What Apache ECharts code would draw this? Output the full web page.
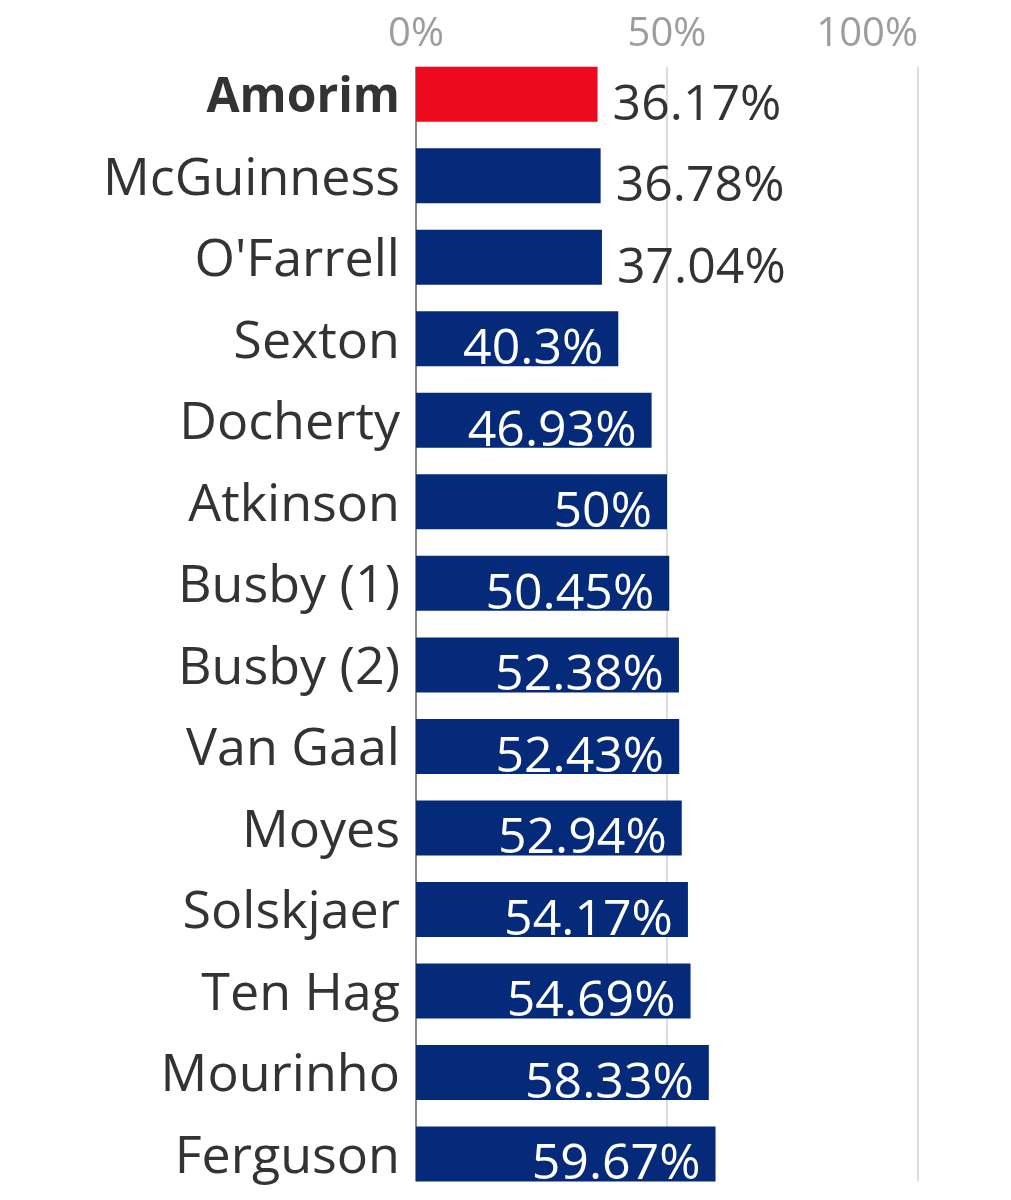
<!DOCTYPE html>
<html>
<head>
<meta charset="utf-8">
<script src="https://cdn.jsdelivr.net/npm/echarts@6/dist/echarts.min.js"></script>
<style>
html,body{margin:0;padding:0;background:#fff;}
#chart{width:1011px;height:1200px;}
</style>
</head>
<body>
<div id="chart"></div>
<script>
var managers = ["Amorim","McGuinness","O'Farrell","Sexton","Docherty","Atkinson","Busby (1)","Busby (2)","Van Gaal","Moyes","Solskjaer","Ten Hag","Mourinho","Ferguson"];
var winRates = [36.17,36.78,37.04,40.3,46.93,50,50.45,52.38,52.43,52.94,54.17,54.69,58.33,59.67];
var tickValues = [0,50,100];
var highlight = "Amorim";

var FONT = "Open Sans";
var NAVY = "#052a7a";
var RED = "#ec0a1e";

var barData = winRates.map(function(v,i){
  var inside = v >= 40;
  return {
    value: v,
    itemStyle: {color: managers[i] === highlight ? RED : NAVY},
    label: inside ? {
      position: 'insideRight', distance: 15, color: '#ffffff', offset: [0, 11]
    } : {
      position: 'right', distance: 15, color: '#333333', offset: [0, 11]
    }
  };
});

var chart = echarts.init(document.getElementById('chart'), null, {renderer:'canvas'});
chart.setOption({
  animation: false,
  backgroundColor: '#ffffff',
  grid: [
    {left: 416, right: 93, top: 66.7, bottom: 18.5, containLabel: false},
    {left: 416, right: 93, top: 53.5, bottom: 5.25, containLabel: false}
  ],
  xAxis: [
    {
      gridIndex: 0, type: 'value', position: 'top', min: 0, max: 100, interval: 50,
      axisLine: {show: false}, axisTick: {show: false},
      axisLabel: {show: true, formatter: function(v){ return tickValues.indexOf(v) >= 0 ? v + '%' : ''; },
        color: '#9d9d9d', fontSize: 40, fontFamily: FONT, margin: 12, alignMaxLabel: 'right'},
      splitLine: {show: true, lineStyle: {color: ['#888888','#dddddd','#dddddd'], width: 2}}
    },
    {
      gridIndex: 1, type: 'value', min: 0, max: 100, interval: 50,
      axisLine: {show: false}, axisTick: {show: false}, axisLabel: {show: false}, splitLine: {show: false}
    }
  ],
  yAxis: [
    {
      gridIndex: 0, type: 'category', data: managers, inverse: true, show: false
    },
    {
      gridIndex: 1, type: 'category', data: managers, inverse: true,
      axisLine: {show: false}, axisTick: {show: false},
      axisLabel: {
        margin: 16, fontSize: 52, fontFamily: FONT, color: '#333333', padding: [8, 0, 0, 0],
        formatter: function(v){ return v === highlight ? '{b|' + v + '}' : v; },
        rich: {b: {fontWeight: 'bold', fontSize: 48, fontFamily: FONT, color: '#333333'}}
      }
    }
  ],
  series: [
    {
      type: 'bar', xAxisIndex: 1, yAxisIndex: 1, barWidth: 55,
      data: barData,
      label: {show: true, fontSize: 50, fontFamily: FONT,
        formatter: function(p){ return p.value + '%'; }}
    }
  ]
});
</script>
</body>
</html>
